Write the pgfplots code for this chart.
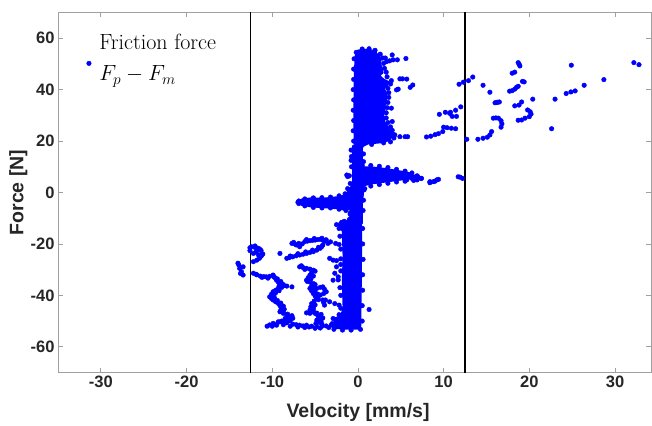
\RequirePackage{fix-cm}
\documentclass[border=0pt]{standalone}
\usepackage{fontspec}
\usepackage{pgfplots}
\pgfplotsset{compat=1.18}
\newfontfamily\arial{Liberation Sans}
\definecolor{tickc}{RGB}{38,38,38}
\definecolor{axc}{RGB}{160,160,160}
\begin{document}
\begin{tikzpicture}
\useasboundingbox (-58pt,-52.5pt) rectangle (594pt,372.5pt);
\begin{axis}[
  at={(0,0)}, anchor=south west,
  scale only axis, width=593pt, height=360pt,
  xmin=-35, xmax=34.2, ymin=-70, ymax=70,
  xtick={-30,-20,...,30}, ytick={-60,-40,...,60},
  tick align=inside, major tick length=5pt,
  axis line style={axc, line width=0.7pt},
  tick style={axc, line width=0.7pt},
  /pgf/number format/assume math mode=true,
  ticklabel style={font=\arial\bfseries\fontsize{16.5}{18}\selectfont, text=tickc},
  xlabel={Velocity [mm/s]}, ylabel={Force [N]},
  label style={font=\arial\bfseries\fontsize{19.5}{21}\selectfont, text=tickc},
  xlabel style={at={(axis description cs:0.506,-0.126)}, anchor=base},
  ylabel style={at={(axis description cs:-0.067,0.5)}, anchor=center},
  legend style={at={(axis description cs:0.048,0.953)}, anchor=north west, draw=none, fill=none,
    inner sep=0pt, font=\fontsize{22}{26}\selectfont,
    /tikz/every odd column/.append style={column sep=6pt}},
  legend image post style={yshift=-14pt},
  legend cell align=left,
]
% dense cores (areas)
\addplot[fill=blue, draw=blue, line width=1.5pt, line join=round, forget plot] coordinates {
(-0.4,18) (-0.45,30) (-0.4,45) (-0.3,53) (0,55.3) (1.2,55.6) (2.0,55) (2.3,53.5) (2.7,52) (2.6,50) (2.8,48.5) (2.9,46.5) (2.5,45.5) (3.0,44) (3.6,43) (3.4,41.5) (3.0,40.5) (3.3,39) (3.3,36) (3.1,33) (3.0,30) (3.1,27.5) (3.5,25.5) (3.7,23.5) (3.9,21.5) (3.6,20.2) (2.8,19.5) (2.3,19.3) (1.2,19) (0.6,18) (0.45,17) (-0.4,18)};
\addplot[fill=blue, draw=blue, line width=1.5pt, line join=round, forget plot] coordinates {
(-0.55,-12) (-0.55,18) (0.45,18) (0.45,-12) (-0.55,-12)};
\addplot[fill=blue, draw=blue, line width=1.5pt, line join=round, forget plot] coordinates {
(0,10) (1.8,9.8) (3.3,9.2) (4.9,8.3) (6,7.6) (6.5,6.5) (6,5.3) (4.9,4.9) (3.3,4.2) (1.5,3.4) (0.45,2.5) (0,5) (0,10)};
\addplot[fill=blue, draw=blue, line width=1.5pt, line join=round, forget plot] coordinates {
(-6.6,-2.6) (-5.5,-2.2) (-4,-2.3) (-2.5,-1.8) (-1.4,-1.0) (-1.0,1.5) (-0.6,3) (0.6,3) (0.6,-1) (0.4,-5.5) (-0.5,-6.2) (-1.5,-6.8) (-2.5,-6.2) (-4,-5.8) (-5.5,-5.5) (-6.6,-4.8) (-6.6,-2.6)};
\addplot[fill=blue, draw=blue, line width=1.5pt, line join=round, forget plot] coordinates {
(-0.9,-5) (0.4,-5) (0.4,-20) (0.35,-40) (0.3,-52) (0,-53) (-1.5,-53) (-2.7,-52.8) (-2.8,-49) (-2.0,-48) (-1.7,-45) (-1.8,-35) (-1.7,-25) (-1.8,-15) (-2.3,-12.5) (-2.0,-11) (-0.9,-11) (-0.9,-5)};
% scatter points
\addplot[only marks, mark=*, mark size=2.3pt, blue, mark options={draw=blue, fill=blue}] coordinates {
(32.2,50.5) (32.8,49.7) (24.9,49.5) (28.7,43.9) (26.4,41.7) (25.35,39.5) (24.85,39.1) (24.3,38.5) (23.0,36.3) (22.6,24.8) (20.4,36.3)
(18.7,50.5) (18.8,50.0) (18.9,49.2) (18.0,46.4) (18.3,46.8) (19.2,43.2) (19.4,43.0)
(17.7,39.4) (18.0,39.6) (18.3,40.2) (18.5,40.9) (18.7,41.3)
(14.6,41.7) (15.4,39.0)
(16.0,34.9) (16.3,35.1) (16.5,35.2) (16.2,35.0)
(18.3,33.7) (18.8,34.0) (19.1,35.2)
(19.8,32.1) (20.1,31.4) (20.2,30.5) (20.0,29.5) (19.5,28.9) (19.1,28.2) (18.7,28.1)
(15.8,28.9) (16.1,29.0) (16.4,28.9) (16.7,27.9) (16.8,26.7) (16.7,25.4)
(12.7,20.7) (14.0,20.7) (14.6,21.1) (15.1,21.5) (15.4,22.4) (15.6,23.7)
(11.8,42.1) (12.3,42.9) (12.9,43.5) (13.4,44.9)
(12.0,33.3) (11.4,32.0) (10.8,31.2) (11.0,29.6) (11.5,29.6) (10.2,31.2) (9.5,30.4) (10.7,30.8)
(8.0,21.6) (8.5,21.9) (9.0,22.5) (9.4,22.9) (9.9,23.7) (10.0,25.4) (10.4,25.2) (10.9,25.0) (11.4,24.8)
(7.4,5.5) (8.4,3.8) (8.8,4.2) (9.0,4.4) (9.2,4.9) (9.4,5.1) (11.7,6.1) (11.9,6.0) (12.2,5.5)
(3.35,50.9) (3.7,51.2) (4.1,51.6) (4.6,51.6) (5.6,52.1) (4.0,53.5) (3.2,52.3)
(4.9,44.2) (5.2,44.2) (5.7,44.1) (6.4,41.8) (6.1,40.9) (4.5,39.9) (4.7,40.2)
(3.9,32.8) (4.0,27.6) (3.7,23.7)
(4.3,22.4) (4.9,21.7) (5.5,21.7) (5.8,21.7)
(5.3,6.8) (5.9,6.1) (6.3,5.5) (6.7,6.1) (7.0,6.1) (7.4,5.5) (5.7,4.9) (6.9,4.9) (8.4,4.2)
(-1.3,6.8) (-1.0,6.5) (-1.2,6.2)
(-14.0,-27.5) (-13.8,-29.5) (-13.4,-28.9) (-13.6,-30.8) (-13.4,-32.1) (-13.9,-28.2) (-13.7,-31.5)
(-12.4,-21.1) (-12.0,-20.8) (-11.6,-21.7) (-11.3,-22.6) (-11.8,-22.6) (-12.2,-23.7) (-11.6,-24.3) (-11.1,-23.9) (-11.8,-26.3) (-12.2,-26.9) (-11.2,-24.2) (-12.6,-21.5)
(-12.0,-21.4) (-11.4,-22.2) (-11.9,-23.2) (-11.3,-24.8) (-11.5,-25.6) (-12.6,-22.6)
(-12.2,-31.4) (-11.8,-32.0) (-11.4,-32.5) (-11.0,-32.7) (-10.7,-32.8) (-10.3,-32.6) (-9.9,-32.1) (-9.7,-33.1) (-9.5,-34.1) (-9.3,-34.8) (-9.1,-35.4) (-9.2,-36.4) (-9.3,-37.3) (-9.6,-38.0) (-9.9,-38.6) (-10.1,-39.6) (-10.3,-40.6) (-10.1,-41.2) (-9.9,-41.8) (-9.6,-42.5) (-9.3,-43.1) (-9.1,-44.0) (-8.9,-45.0) (-9.0,-45.7) (-9.1,-46.4) (-8.7,-47.0) (-8.3,-47.6) (-7.9,-48.3) (-8.2,-49.0) (-8.5,-49.6) (-8.9,-50.0) (-9.3,-50.3) (-9.9,-50.9) (-10.3,-51.5) (-10.0,-52.0)
(-11.9,-31.8) (-11.2,-33.0) (-10.5,-33.3) (-9.8,-32.8) (-9.4,-33.6) (-9.0,-34.6) (-8.8,-35.6) (-8.9,-36.9) (-9.2,-38.2) (-9.6,-39.0) (-9.8,-40.2) (-9.7,-41.2) (-9.4,-42.0) (-9.0,-43.0) (-8.7,-44.2) (-8.6,-45.4) (-8.7,-46.5) (-8.2,-47.3) (-7.7,-47.9) (-7.6,-48.9) (-8.0,-49.9) (-8.6,-50.6) (-9.5,-51.3) (-10.6,-52.0)
(-8.9,-36.0) (-8.3,-36.4) (-7.7,-36.7) (-8.6,-36.2)
(-9.1,-23.7)
(-9.1,-50.3) (-8.3,-50.7) (-7.6,-51.2) (-6.8,-51.6) (-6.0,-51.6) (-5.4,-52.0) (-4.8,-52.2) (-4.2,-52.0) (-3.7,-51.9) (-3.1,-51.5) (-2.5,-50.9) (-1.7,-51.6) (-6.4,-51.9) (-7.2,-51.4) (-5.7,-52.3)
(-9.5,-51.6) (-8.7,-51.4) (-7.9,-52.0) (-7.0,-52.3) (-6.2,-52.5) (-5.0,-52.8) (-4.4,-52.7) (-3.4,-52.5) (-2.8,-52.0)
(-6.0,-46.8) (-5.6,-47.0) (-8.5,-49.0) (-7.9,-49.8)
(-7.7,-19.8) (-7.2,-20.4) (-6.8,-21.1) (-6.2,-19.1) (-5.6,-18.7) (-5.0,-18.5) (-4.4,-18.2) (-3.9,-18.9) (-3.5,-19.8) (-7.4,-20.0) (-6.5,-20.0) (-5.9,-18.9) (-5.3,-18.6) (-4.7,-18.3) (-4.1,-18.5)
(-7.5,-19.4) (-6.9,-19.8) (-6.0,-18.3) (-5.1,-17.9) (-4.2,-17.8) (-3.7,-18.4)
(-8.3,-25.6) (-7.6,-25.0) (-6.8,-24.3) (-6.0,-23.7) (-5.2,-23.0) (-4.4,-21.7) (-4.1,-20.4) (-8.0,-25.3) (-7.2,-24.6) (-6.4,-24.0) (-5.6,-23.3) (-4.8,-22.4) (-4.2,-21.0)
(-7.9,-24.7) (-7.0,-23.8) (-6.1,-23.1) (-5.3,-22.4) (-4.6,-21.3)
(-6.8,-28.9) (-6.4,-29.2) (-6.0,-29.5) (-5.6,-29.8) (-5.2,-30.2) (-5.4,-31.2) (-5.6,-32.1) (-5.8,-33.1) (-6.0,-34.1) (-5.6,-34.8) (-5.2,-35.4) (-5.4,-36.3) (-5.6,-37.3) (-5.4,-38.3) (-5.2,-39.3) (-5.0,-40.2) (-4.8,-41.2) (-5.1,-42.2) (-5.4,-43.2) (-5.5,-44.5) (-5.6,-45.7) (-5.3,-46.4) (-5.0,-47.0) (-4.7,-47.7) (-4.4,-48.3) (-4.6,-49.0) (-4.8,-49.6) (-4.5,-50.5) (-4.2,-51.2)
(-6.6,-28.5) (-6.2,-29.9) (-5.0,-30.6) (-5.2,-32.5) (-5.5,-33.7) (-5.9,-34.6) (-5.0,-35.8) (-5.1,-36.8) (-5.2,-37.8) (-5.0,-38.8) (-4.7,-40.6) (-4.6,-41.7) (-5.0,-43.7) (-5.2,-44.9) (-5.2,-45.8) (-4.8,-46.9) (-4.3,-47.4) (-4.1,-48.8) (-4.3,-50.0) (-4.9,-50.9)
(-4.8,-37.3) (-4.4,-36.9) (-4.1,-36.7) (-3.9,-37.6) (-3.7,-38.6) (-4.0,-39.3) (-4.4,-39.9) (-4.7,-39.5) (-5.0,-39.2) (-4.1,-41.8) (-4.0,-42.8) (-3.9,-43.8)
(-3.3,-25.6) (-2.9,-26.3) (-2.5,-26.5) (-2.5,-28.9) (-2.7,-31.4) (-2.3,-32.8) (-2.9,-34.1) (-2.3,-34.0) (-3.8,-18.5) (-3.2,-19.2) (-2.6,-19.8) (-2.2,-20.2) (-3.8,-41.8) (-3.3,-42.5) (-2.7,-43.2) (-2.2,-43.8) (-2.0,-30.5) (-2.0,-25.8)
(1.3,-45.5)
(-6.8,-3.5) (-6.5,-4.2) (-7.0,-3.8)
(-0.5,20) (-0.55,24) (-0.5,28) (-0.55,32) (-0.5,36) (-0.55,40) (-0.5,44) (-0.5,48) (-0.45,52) (-0.2,54.5) (0.5,55.8) (1.3,55.9) (2.0,55.3)
(2.6,53.8) (2.9,52.3) (3.0,50.2) (3.1,48.3) (3.3,46.8) (3.4,45) (3.9,43.5) (3.8,42.2) (3.5,40.5) (3.6,38.8) (3.6,37) (3.5,35) (3.4,33) (3.3,31) (3.3,29) (3.5,27.2) (3.8,25.5) (4.0,24.2) (4.1,22.6) (4.2,21.2) (3.8,19.7) (3.0,19.3) (1.6,18.7)
(-0.75,14) (-0.75,10) (-0.8,16.5) (0.65,15) (0.65,12) (-0.8,12.5)
(0.5,10.6) (1.5,10.5) (2.5,10.2) (3.5,9.7) (4.5,9.0) (5.5,8.3) (6.3,7.6) (6.9,6.5) (7.1,5.6) (6.5,4.7) (5.5,4.4) (4.5,4.1) (3.5,3.6) (2.5,3.1) (1.5,2.5) (0.8,1.5)
(-6.9,-3.3) (-6.9,-4.3) (-6.2,-2.5) (-5.2,-2.1) (-4.2,-2.0) (-3.2,-1.8) (-2.2,-1.3) (-1.5,-0.5) (-1.2,1.5) (-0.9,3.5) (-6.2,-5.2) (-5.2,-5.8) (-4.2,-6.0) (-3.2,-6.0) (-2.2,-6.5) (-1.4,-7.0) (-0.9,-8.5) (0.6,-7) (0.65,-3) (0.7,1)
(0.55,-14) (0.55,-20) (0.6,-26) (0.55,-32) (0.55,-38) (0.5,-44) (0.5,-50) (0.3,-53.2) (-0.8,-53.5) (-1.8,-53.5) (-2.8,-53.2) (-3.0,-51) (-2.9,-49) (-2.2,-47.5) (-2.0,-45) (-2.0,-40) (-2.1,-37) (-2.0,-28) (-2.0,-22) (-2.1,-17) (-2.2,-14) (-2.5,-12.5) (-1.6,-11.2) (-1.0,-10.5) (-0.9,-8)
};
\addlegendentry{\begin{tabular}{@{}l@{}}Friction force\\[5pt]$F_p - F_m$\end{tabular}}
\addplot[black, line width=1.3pt, forget plot] coordinates {(-12.5,-70) (-12.5,70)};
\addplot[black, line width=1.3pt, forget plot] coordinates {(12.5,-70) (12.5,70)};
\end{axis}
\end{tikzpicture}
\end{document}
